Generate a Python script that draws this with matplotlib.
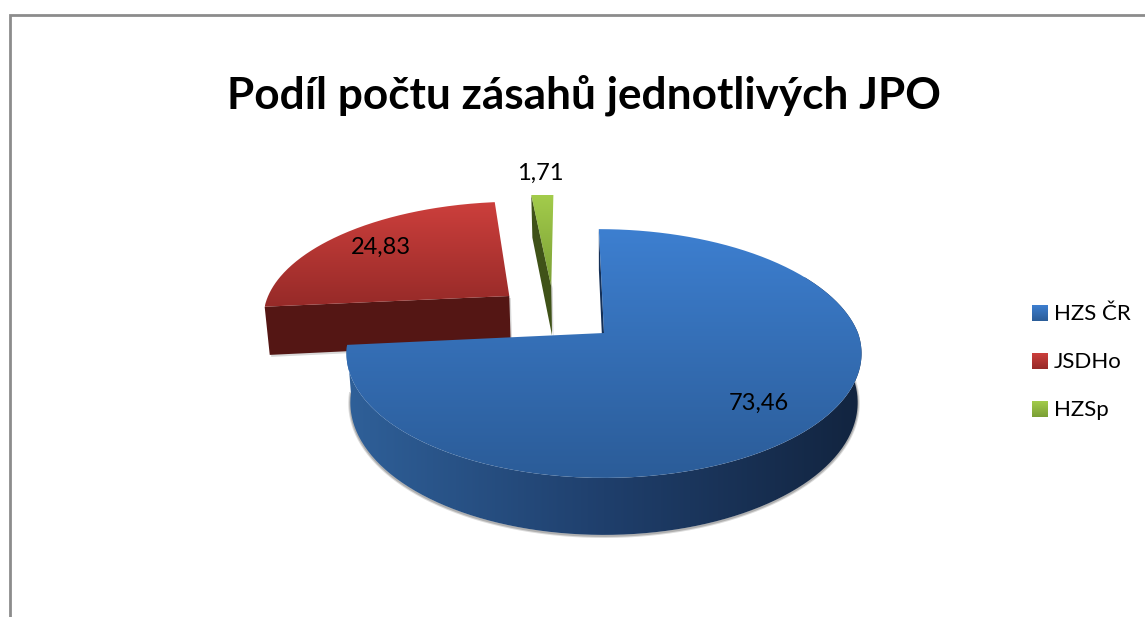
import numpy as np
import matplotlib
matplotlib.use('Agg')
import matplotlib.pyplot as plt
from matplotlib.colors import LinearSegmentedColormap
from matplotlib.patches import PathPatch
from matplotlib.path import Path

plt.rcParams['font.family'] = ['Lato', 'DejaVu Sans']

# data
nazvy = ['HZS ČR', 'JSDHo', 'HZSp']
hodnoty = [73.46, 24.83, 1.71]
popisky = ['73,46', '24,83', '1,71']
titulek = 'Podíl počtu zásahů jednotlivých JPO'

# barvy (horni plocha nahore / dole, bok)
barva_hore = ['#3d7fd0', '#cc3f3c', '#a3cc4b']
barva_dole = ['#2b5c98', '#962a28', '#7a9e35']
barva_bok = ['#143058', '#541614', '#3f5218']
bok_modry = ['#2f6099', '#1f3f6c', '#12243f']

# geometrie kolace, v pixelech obrazku
cx, cy = 604, 333
R, S = 254, 121
k = 0.165
sklon = 0.05
hloubka = 47.6
start = 0
posun = [(0, 0), (-0.385, -0.322), (-0.212, -0.41)]
hloubka_k = [1, 1.05, 1.1]
pozice_popisku = [(759, 403), (381, 247), (540, 173)]


def projekce(theta, r=1.0, off=(0, 0), dole=False, hl=1.0):
    t = np.radians(theta)
    u = r * np.sin(t) + off[0]
    v = -r * np.cos(t) + off[1]
    w = 1 - k * v
    x = cx + R * u / w
    y = cy + S * v / w
    x = x + sklon * np.minimum(y - cy, 0)
    if dole:
        x = cx + (x - cx) * 0.985
        y = y + hl * hloubka / w
    return np.column_stack([x, y])


def gradient(ax, body, barvy, vodorovne=False, rozsah=None, z=1):
    body = np.asarray(body)
    cmap = LinearSegmentedColormap.from_list('g', barvy)
    if rozsah is None:
        rozsah = (body[:, 0].min(), body[:, 0].max(), body[:, 1].min(), body[:, 1].max())
    x0, x1, y0, y1 = rozsah
    g = np.linspace(0, 1, 256)
    g = g.reshape(1, -1) if vodorovne else g.reshape(-1, 1)
    im = ax.imshow(g, cmap=cmap, extent=(x0, x1, y1, y0), aspect='auto',
                   interpolation='bilinear', zorder=z, vmin=0, vmax=1)
    patch = PathPatch(Path(np.vstack([body, body[:1]])), transform=ax.transData,
                      facecolor='none', edgecolor='none')
    ax.add_patch(patch)
    im.set_clip_path(patch)


fig = plt.figure(figsize=(11.45, 6.17), dpi=100)
ax = fig.add_axes([0, 0, 1, 1])

podily = np.array(hodnoty) / sum(hodnoty) * 360
konce = start + np.cumsum(podily)
zacatky = konce - podily

# poradi kresleni: cerveny, zeleny, modry navrch
for i in [1, 2, 0]:
    a, b = zacatky[i], konce[i]
    off = posun[i]
    hl = hloubka_k[i]
    z = {1: 2, 2: 4, 0: 6}[i]
    theta = np.linspace(a, b, 200)
    obluk = projekce(theta, off=off)
    stred = projekce(0, r=0, off=off)
    stred_dole = projekce(0, r=0, off=off, dole=True, hl=hl)

    # stena podel prvni hrany vysece
    p1 = projekce(a, off=off)
    p1_dole = projekce(a, off=off, dole=True, hl=hl)
    stena = np.vstack([p1, stred, stred_dole, p1_dole])
    ax.add_patch(plt.Polygon(stena + [1.5, 2], closed=True, fc='#808080', ec='none', alpha=0.3, zorder=z - 0.2))
    ax.add_patch(plt.Polygon(stena, closed=True, fc=barva_bok[i], ec='none', zorder=z))

    # predni bok modre vysece
    if i == 0:
        th = np.linspace(60, b, 300)
        horni = projekce(th, off=off)
        dolni = projekce(th, off=off, dole=True)
        ax.plot(dolni[:, 0], dolni[:, 1] + 1, color='#707070', lw=3, alpha=0.25, zorder=z - 0.1)
        ax.plot(dolni[:, 0], dolni[:, 1] + 1, color='#707070', lw=1.5, alpha=0.4, zorder=z - 0.1)
        bok = np.vstack([horni, dolni[::-1]])
        gradient(ax, bok, bok_modry, vodorovne=True, z=z + 0.1)

    # horni plocha
    plocha = np.vstack([stred, obluk])
    gradient(ax, plocha, [barva_hore[i], barva_dole[i]], z=z + 0.2)

ax.set_xlim(0, 1145)
ax.set_ylim(617, 0)
ax.axis('off')

# ramecek grafu
ax.plot([10.3, 10.3, 1145], [617, 15, 15], color='#8c8c8c', lw=2, zorder=10,
        solid_joinstyle='miter')

ax.text(584, 108, titulek, fontsize=31.8, fontweight='bold', color='black',
        ha='center', va='baseline', zorder=11)

for (x, y), txt in zip(pozice_popisku, popisky):
    ax.text(x, y, txt, fontsize=17, color='black', ha='center', va='center', zorder=11)

# legenda
for i, nazev in enumerate(nazvy):
    y = 313 + 48 * i
    ctverec = [(1032, y - 8), (1048, y - 8), (1048, y + 8), (1032, y + 8)]
    gradient(ax, ctverec, [barva_hore[i], barva_dole[i]], z=11)
    ax.text(1054, y + 7, nazev, fontsize=16, color='black', ha='left', va='baseline', zorder=11)

ax.set_xlim(0, 1145)
ax.set_ylim(617, 0)

plt.savefig('out.png', dpi=100)
